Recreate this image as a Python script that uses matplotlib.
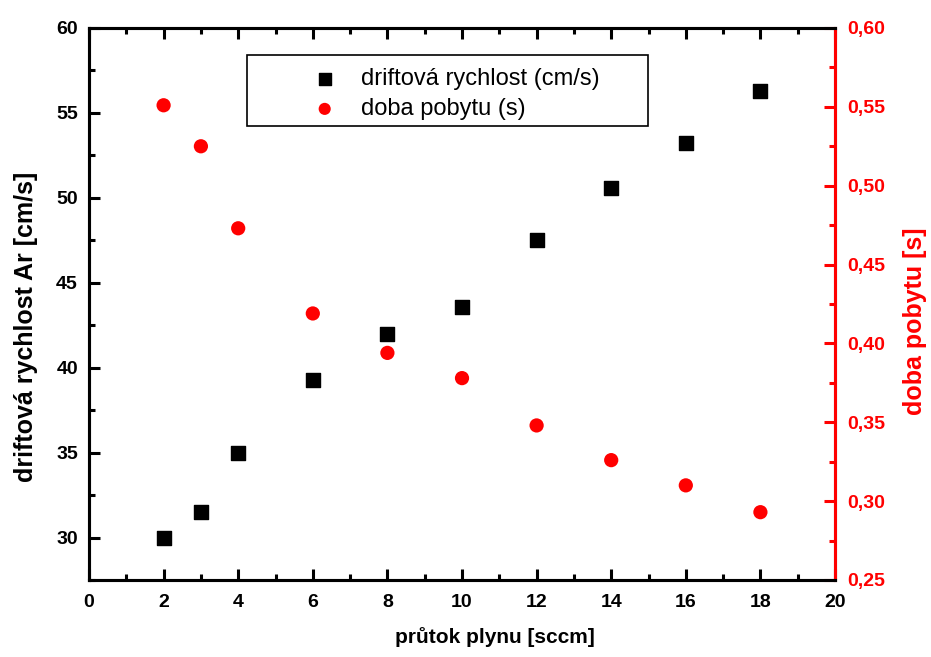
import matplotlib.pyplot as plt
from matplotlib.patches import Rectangle
from matplotlib.ticker import MultipleLocator, FuncFormatter

plt.rcParams['font.family'] = ['Liberation Sans', 'DejaVu Sans']

# flow rate (sccm)
flow = [2, 3, 4, 6, 8, 10, 12, 14, 16, 18]
# drift velocity of Ar (cm/s)
drift = [30.0, 31.5, 35.0, 39.3, 42.0, 43.6, 47.5, 50.6, 53.2, 56.3]
# residence time (s)
residence = [0.551, 0.525, 0.473, 0.419, 0.394, 0.378, 0.348, 0.326, 0.310, 0.293]

fig = plt.figure(figsize=(9.31, 6.57), dpi=100)
ax = fig.add_axes([0.0956, 0.1172, 0.8013, 0.8402])
ax2 = ax.twinx()

ax.scatter(flow, drift, marker='s', s=100, color='black', zorder=3,
           label='driftová rychlost (cm/s)')
ax2.scatter(flow, residence, marker='o', s=105, color='red', edgecolors='none',
            zorder=3, label='doba pobytu (s)')

ax.set_xlim(0, 20)
ax.set_ylim(27.5, 60)
ax2.set_ylim(0.25, 0.60)

ax.xaxis.set_major_locator(MultipleLocator(2))
ax.xaxis.set_minor_locator(MultipleLocator(1))
ax.set_yticks([30, 35, 40, 45, 50, 55, 60])
ax.yaxis.set_minor_locator(MultipleLocator(2.5))
ax2.yaxis.set_major_locator(MultipleLocator(0.05))
ax2.yaxis.set_minor_locator(MultipleLocator(0.025))
ax2.yaxis.set_major_formatter(FuncFormatter(lambda v, p: f'{v:.2f}'.replace('.', ',')))

for a in (ax, ax2):
    for sp in a.spines.values():
        sp.set_linewidth(2.2)
ax2.spines['right'].set_color('red')

ax.tick_params(axis='both', which='major', direction='in', length=8, width=2.2,
               labelsize=14, top=True)
ax.tick_params(axis='x', which='major', pad=10)
ax.tick_params(axis='y', which='major', pad=8)
ax.tick_params(axis='both', which='minor', direction='in', length=4.5, width=2.2, top=True)
ax2.tick_params(axis='y', which='major', direction='in', length=8, width=2.2,
                labelsize=14, colors='red', pad=9)
ax2.tick_params(axis='y', which='minor', direction='in', length=4.5, width=2.2, colors='red')

for lbl in ax.get_xticklabels() + ax.get_yticklabels() + ax2.get_yticklabels():
    lbl.set_fontweight('bold')

ax.set_xlabel('průtok plynu [sccm]', fontsize=15, fontweight='bold')
ax.set_ylabel('driftová rychlost Ar [cm/s]', fontsize=18, fontweight='bold')
ax2.set_ylabel('doba pobytu [s]', fontsize=18, fontweight='bold', color='red')
ax.xaxis.set_label_coords(0.544, -0.085)
ax.yaxis.set_label_coords(-0.068, 0.458)
ax2.yaxis.set_label_coords(1.091, 0.468)

# legend box
ax2.add_patch(Rectangle((0.2118, 0.8225), 0.5375, 0.1285, transform=ax2.transAxes,
                        facecolor='white', edgecolor='black', linewidth=1.2, zorder=4))
h1, l1 = ax.get_legend_handles_labels()
h2, l2 = ax2.get_legend_handles_labels()
leg = ax2.legend(h1 + h2, l1 + l2, loc='upper left', bbox_to_anchor=(0.2922, 0.927),
                 fontsize=17, frameon=False, borderpad=0, borderaxespad=0,
                 handlelength=1.5, handletextpad=0.8, labelspacing=0.33,
                 scatterpoints=1, markerscale=0.85)
leg.set_zorder(5)

fig.savefig('out.png', dpi=100)
